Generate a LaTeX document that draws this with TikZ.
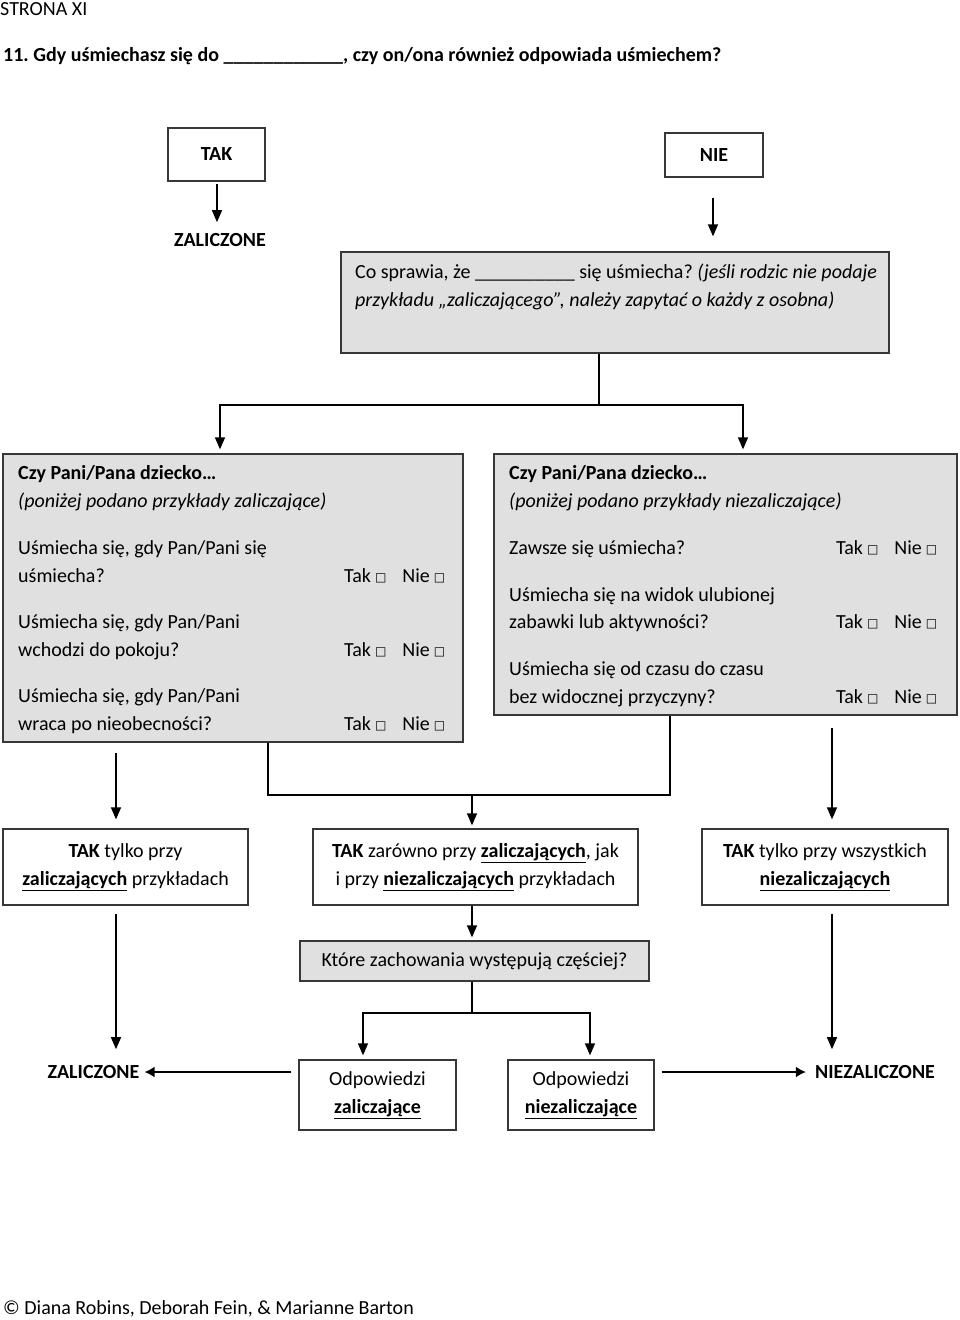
\documentclass[tikz,border=0pt]{standalone}
\usepackage{fontspec}
\setmainfont{Carlito}
\newfontfamily\symfont{DejaVu Sans}
\usetikzlibrary{arrows.meta}
\frenchspacing
\definecolor{boxgray}{RGB}{224,224,224}
\definecolor{edge}{RGB}{55,55,55}
\newcommand{\sq}{\raisebox{0.5pt}{\symfont\fontsize{12pt}{12pt}\selectfont □}}
\newcommand{\tn}{Tak\hspace{4pt}\sq\hspace{16pt}Nie\hspace{4pt}\sq}
\begin{document}
\begin{tikzpicture}[x=1pt,y=-1pt,
  every node/.style={font=\fontsize{20pt}{28pt}\selectfont, inner sep=0pt, text=black},
  box/.style={draw=edge, line width=1.3pt, align=center},
  graybox/.style={box, fill=boxgray},
  arr/.style={line width=1.4pt, -{Triangle[width=10pt,length=12pt]}},
  bigarr/.style={line width=2.8pt, -{Latex[width=11pt,length=10pt]}},
  ln/.style={line width=1.4pt},
  txt/.style={anchor=base west},
]
\useasboundingbox (0,0) rectangle (960,1320);
\fill[white] (0,0) rectangle (960,1320);

% header
\node[txt] (strona) at (0,15) {STRONA XI};
\node[txt] (title) at (3,61) {\bfseries 11. Gdy uśmiechasz się do \_\_\_\_\_\_\_\_\_\_\_\_, czy on/ona również odpowiada uśmiechem?};

% top boxes
\node[box, minimum width=97pt, minimum height=53pt] (tak) at (216.5,154.5) {\bfseries TAK};
\node[box, minimum width=98pt, minimum height=44pt] (nie) at (714,155) {\bfseries NIE};
\node (zal1) at (220,240) {\bfseries ZALICZONE};

% gray question box
\node[graybox, minimum width=548pt, minimum height=101pt] (gray) at (615,302.5) {};
\node[txt] (g1) at (355,278) {Co sprawia, że \_\_\_\_\_\_\_\_\_\_ się uśmiecha? \itshape (jeśli rodzic nie podaje};
\node[txt] (g2) at (355,306) {\itshape przykładu „zaliczającego”, należy zapytać o każdy z osobna)};

% left box
\node[graybox, minimum width=460pt, minimum height=288pt] (lbox) at (233,598) {};
\node[txt] (l1) at (18,479) {\bfseries Czy Pani/Pana dziecko…};
\node[txt] (l2) at (18,507) {\itshape (poniżej podano przykłady zaliczające)};
\node[txt] (l3) at (18,554) {Uśmiecha się, gdy Pan/Pani się};
\node[txt] (l4) at (18,582) {uśmiecha?};
\node[txt] (l4t) at (344,582) {\tn};
\node[txt] (l5) at (18,628) {Uśmiecha się, gdy Pan/Pani};
\node[txt] (l6) at (18,656) {wchodzi do pokoju?};
\node[txt] (l6t) at (344,656) {\tn};
\node[txt] (l7) at (18,702) {Uśmiecha się, gdy Pan/Pani};
\node[txt] (l8) at (18,730) {wraca po nieobecności?};
\node[txt] (l8t) at (344,730) {\tn};

% right box
\node[graybox, minimum width=463pt, minimum height=261pt] (rbox) at (725.5,584.5) {};
\node[txt] (r1) at (509,479) {\bfseries Czy Pani/Pana dziecko…};
\node[txt] (r2) at (509,507) {\itshape (poniżej podano przykłady niezaliczające)};
\node[txt] (r3) at (509,554) {Zawsze się uśmiecha?};
\node[txt] (r3t) at (836,554) {\tn};
\node[txt] (r4) at (509,601) {Uśmiecha się na widok ulubionej};
\node[txt] (r5) at (509,628) {zabawki lub aktywności?};
\node[txt] (r5t) at (836,628) {\tn};
\node[txt] (r6) at (509,675) {Uśmiecha się od czasu do czasu};
\node[txt] (r7) at (509,703) {bez widocznej przyczyny?};
\node[txt] (r7t) at (836,703) {\tn};

% result boxes
\node[box, minimum width=245pt, minimum height=76pt] (bl) at (125.5,867)
  {\textbf{TAK} tylko przy\\\underline{\textbf{zaliczających}} przykładach};
\node[box, minimum width=325pt, minimum height=76pt] (bm) at (475.5,867)
  {\textbf{TAK} zarówno przy \underline{\textbf{zaliczających}}, jak\\i przy \underline{\textbf{niezaliczających}} przykładach};
\node[box, minimum width=246pt, minimum height=76pt] (br) at (825,867)
  {\textbf{TAK} tylko przy wszystkich\\\underline{\textbf{niezaliczających}}};

\node[graybox, minimum width=349pt, minimum height=40pt] (ktore) at (474.5,961) {Które zachowania występują częściej?};
\node[box, minimum width=157pt, minimum height=70pt] (oz) at (377.5,1095) {Odpowiedzi\\\underline{\textbf{zaliczające}}};
\node[box, minimum width=146pt, minimum height=70pt] (on) at (581,1095) {Odpowiedzi\\\underline{\textbf{niezaliczające}}};
\node (zal2) at (93.5,1072) {\bfseries ZALICZONE};
\node (niezal) at (875,1072) {\bfseries NIEZALICZONE};

\node[txt] (copy) at (3,1314) {© Diana Robins, Deborah Fein, \& Marianne Barton};

% helper coordinates
\coordinate (xa) at (217,0);
\coordinate (xn) at (713,0);
\coordinate (s1) at (599,405);
\coordinate (L1) at (220,405);
\coordinate (R1) at (743,405);
\coordinate (x116) at (116,0);
\coordinate (xl) at (268,0);
\coordinate (xr) at (670,0);
\coordinate (J) at (472,795);
\coordinate (x832) at (832,0);
\coordinate (K) at (472,1013);
\coordinate (KL) at (363,0);
\coordinate (KR) at (590,0);

% connectors
\draw[arr, shorten <=2pt, shorten >=11pt] (tak.south -| xa) -- (zal1.north -| xa);
\draw[arr, shorten <=20pt, shorten >=15pt] (nie.south -| xn) -- (gray.north -| xn);
\draw[ln] (gray.south -| s1) -- (s1);
\draw[arr, shorten >=4pt] (s1) -| (lbox.north -| L1);
\draw[arr, shorten >=4pt] (s1) -| (rbox.north -| R1);

\draw[arr, shorten <=10pt, shorten >=9pt] (lbox.south -| x116) -- (bl.north -| x116);
\draw[ln] (lbox.south -| xl) -- (xl |- J) -- (xr |- J) -- (rbox.south -| xr);
\draw[arr, shorten >=3pt] (J) -- (bm.north -| J);
\draw[arr, shorten <=12pt, shorten >=9pt] (rbox.south -| x832) -- (br.north -| x832);

\draw[arr, shorten <=8pt, shorten >=16pt] (bl.south -| x116) -- (zal2.north -| x116);
\draw[arr, shorten <=8pt, shorten >=16pt] (br.south -| x832) -- (niezal.north -| x832);
\draw[arr, shorten >=3pt] (bm.south -| J) -- (ktore.north -| J);
\draw[ln] (ktore.south -| K) -- (K);
\draw[arr, shorten >=4pt] (K) -| (oz.north -| KL);
\draw[arr, shorten >=4pt] (K) -| (on.north -| KR);

\draw[bigarr, shorten <=7pt, shorten >=5pt] (oz.west |- zal2) -- (zal2.east);
\draw[bigarr, shorten <=7pt, shorten >=9pt] (on.east |- niezal) -- (niezal.west);
\end{tikzpicture}
\end{document}
